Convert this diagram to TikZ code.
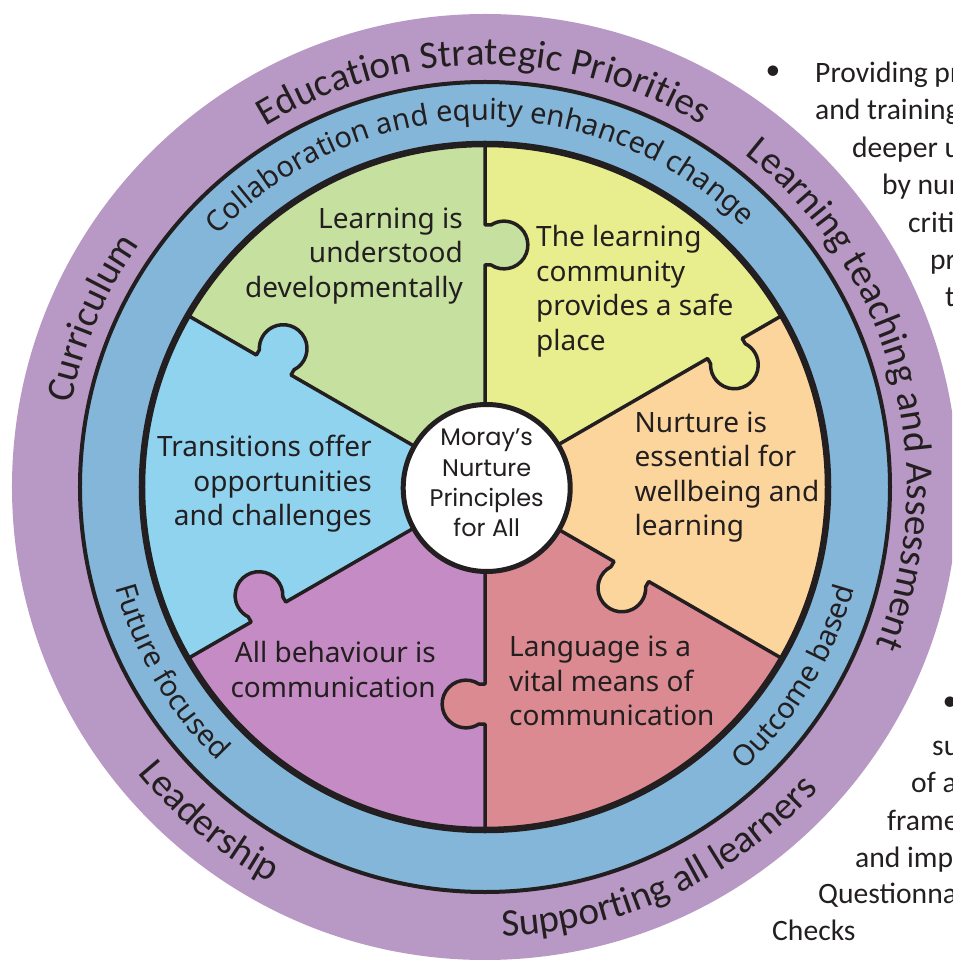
\documentclass[tikz,border=0pt]{standalone}
\usepackage{fontspec}
\setmainfont{Noto Sans}
\newfontfamily\carlfam{Carlito}
\newfontfamily\sassfam{Noto Sans}
\newfontfamily\popfam{Poppins}
\usetikzlibrary{decorations.text}
\definecolor{ink}{HTML}{231F20}
\definecolor{ringpurple}{HTML}{B898C4}
\definecolor{ringblue}{HTML}{84B6DA}
\definecolor{secgreen}{HTML}{C5E09F}
\definecolor{secyellow}{HTML}{E8EE8E}
\definecolor{secorange}{HTML}{FCD59D}
\definecolor{secpink}{HTML}{DC8A91}
\definecolor{secpurple}{HTML}{C58BC4}
\definecolor{secblue}{HTML}{8FD3EF}
\newcommand\purpfont{\fontsize{39pt}{44pt}\selectfont\carlfam}
\newcommand\bluefont{\fontsize{29pt}{34pt}\selectfont\sassfam}
\tikzset{
  sectext/.style={font=\fontsize{28pt}{34.5pt}\selectfont\sassfam, text=ink, inner sep=0pt},
  hubtext/.style={font=\fontsize{24pt}{30.3pt}\selectfont\popfam, text=ink, inner sep=0pt, align=center},
  pagetext/.style={font=\fontsize{29.6pt}{37pt}\selectfont\carlfam, text=ink, inner sep=0pt, anchor=base west},
  divider/.style={draw=ink, line width=3.5pt, line join=round},
  ringtext/.style={decorate, decoration={text along path, text={#1}, text align=center, text color=ink}}
}
\begin{document}
\begin{tikzpicture}[x=1pt,y=1pt]
\useasboundingbox (-485,-473) rectangle (467,487);
\clip (-485,-473) rectangle (467,487);
% rings
\fill[ringpurple] (0,0) circle[radius=473];
\filldraw[fill=ringblue, draw=ink, line width=4pt] (0,0) circle[radius=405];
% sectors
\fill[secgreen]  (0,0) -- (90:343)  arc[start angle=90,  end angle=150, radius=343] -- cycle;
\fill[secyellow] (0,0) -- (30:343)  arc[start angle=30,  end angle=90,  radius=343] -- cycle;
\fill[secorange] (0,0) -- (-30:343) arc[start angle=-30, end angle=30,  radius=343] -- cycle;
\fill[secpink]   (0,0) -- (-90:343) arc[start angle=-90, end angle=-30, radius=343] -- cycle;
\fill[secpurple] (0,0) -- (210:343) arc[start angle=210, end angle=270, radius=343] -- cycle;
\fill[secblue]   (0,0) -- (150:343) arc[start angle=150, end angle=210, radius=343] -- cycle;
% jigsaw knobs
\foreach \ang/\d/\col in {90/242/secgreen, 30/277/secyellow, -30/169/secorange, -90/217/secpink, 210/250/secpurple, 150/244/secblue}{
  \begin{scope}[rotate=\ang]
    \fill[\col] (\d-20,0.5) -- (\d-20,-6) arc[start angle=147, end angle=393, radius=23.85] -- (\d+20,0.5) -- cycle;
    \draw[divider] (70,0) -- (\d-20,0) -- (\d-20,-6) arc[start angle=147, end angle=393, radius=23.85] -- (\d+20,0) -- (345,0);
  \end{scope}
}
\draw[ink, line width=6.5pt] (0,0) circle[radius=343];
% hub
\node[circle, draw=ink, fill=white, line width=5pt, minimum size=167pt, inner sep=0pt] (hub) at (1.7,-1) {};
\node[hubtext] (hubtxt) at (1.7,4) {Moray’s\\Nurture\\Principles\\for All};
% sector texts
\node[sectext, anchor=east, align=right] (t1) at (-22,231) {Learning is\\understood\\developmentally};
\node[sectext, anchor=west, align=left] (t2) at (51,196) {The learning\\community\\provides a safe\\place};
\node[sectext, anchor=west, align=left] (t3) at (149.5,10) {Nurture is\\essential for\\wellbeing and\\learning};
\node[sectext, anchor=west, align=left] (t4) at (24,-194) {Language is a\\vital means of\\communication};
\node[sectext, anchor=east, align=right] (t5) at (-49,-182.5) {All behaviour is\\communication};
\node[sectext, anchor=east, align=right] (t6) at (-113,3) {Transitions offer\\opportunities\\and challenges};
% ring texts (blue)
\path[ringtext={|\bluefont|Collaboration and equity enhanced change}] (161:367) arc[start angle=161, end angle=21, radius=367];
\path[ringtext={|\bluefont|Outcome based}] (-80:383) arc[start angle=-80, end angle=17, radius=383];
\path[ringtext={|\bluefont|Future focused}] (160:383) arc[start angle=160, end angle=261, radius=383];
% ring texts (purple)
\path[ringtext={|\purpfont|Education Strategic Priorities}] (150.25:422) arc[start angle=150.25, end angle=30.25, radius=422];
\path[ringtext={|\purpfont|Learning teaching and Assessment}] (75:422) arc[start angle=75, end angle=-45, radius=422];
\path[ringtext={|\purpfont|Curriculum}] (200:422) arc[start angle=200, end angle=113.5, radius=422];
\path[ringtext={|\purpfont|Leadership}] (190:450) arc[start angle=190, end angle=271, radius=450];
\path[ringtext={|\purpfont|Supporting all learners}] (-110:450) arc[start angle=-110, end angle=-20, radius=450];
% page text at right
\node[pagetext, anchor=center] (b1) at (288,414) {•};
\node[pagetext] (p1) at (330,404) {Providing pr};
\node[pagetext] (p2) at (330,367) {and training};
\node[pagetext] (p3) at (367,329) {deeper u};
\node[pagetext] (p4) at (397,292) {by nur};
\node[pagetext] (p5) at (423,254) {criti};
\node[pagetext] (p6) at (445,217) {pr};
\node[pagetext] (p7) at (460,180) {t};
\node[pagetext, anchor=center] (b2) at (465,-217) {•};
\node[pagetext] (q1) at (447,-268) {su};
\node[pagetext] (q2) at (426,-305) {of a};
\node[pagetext] (q3) at (402,-343) {frame};
\node[pagetext] (q4) at (370,-380) {and imp};
\node[pagetext] (q5) at (333,-416) {Questionna};
\node[pagetext] (q6) at (287,-453) {Checks};
\end{tikzpicture}
\end{document}
